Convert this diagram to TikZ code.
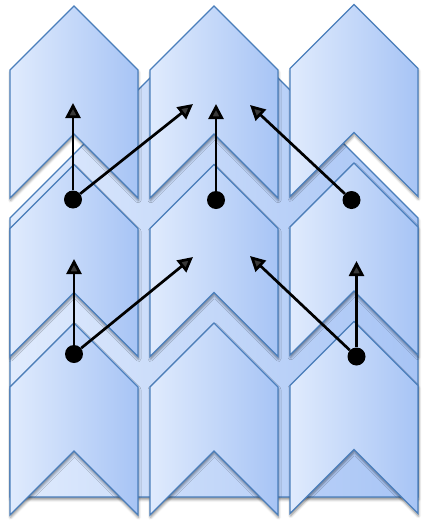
\documentclass[tikz,border=0pt]{standalone}
\usetikzlibrary{arrows.meta,shadows.blur}
\definecolor{cL}{HTML}{E0EBFD}
\definecolor{cR}{HTML}{A7C4F5}
\definecolor{cE}{HTML}{4A7EBB}
\newcommand\mychev[2]{\path[chev] (#1,#2) -- ++(64,64) -- ++(0,128) -- ++(-64,-64) -- ++(-64,64) -- ++(0,-128) -- cycle;}
\begin{document}
\begin{tikzpicture}[x=1pt,y=-1pt,
  chev/.style={draw=cE, line width=1.4pt, left color=cL, right color=cR, line join=miter,
    blur shadow={shadow xshift=0.5pt, shadow yshift=-2.5pt, shadow blur radius=2.5pt, shadow opacity=45}},
  dot/.style={circle, fill=black, inner sep=0pt, minimum size=18pt},
  arr/.style={line width=2.7pt, -{Triangle[length=15pt,width=15pt]}}]
\useasboundingbox (0,0) rectangle (421,520);
% background shape
\path[chev] (214,14) -- (418,218) -- (418,497) -- (10,497) -- (10,218) -- cycle;
% chevrons
\mychev{74}{6}\mychev{214}{6}\mychev{354}{4.5}
\mychev{74}{164.5}\mychev{214}{164.5}\mychev{354}{163}
\mychev{74}{323}\mychev{214}{323}\mychev{354}{321.5}
% dots
\node[dot] (d1) at (73,199.5) {};
\node[dot] (d2) at (216,200) {};
\node[dot] (d3) at (351.5,200) {};
\node[dot] (d4) at (74,354) {};
\node[dot] (d5) at (356.5,356.5) {};
% arrow ends
\coordinate (t1) at (73,103);
\coordinate (t2) at (193,104);
\coordinate (t3) at (216,104);
\coordinate (t4) at (250,105);
\coordinate (t5) at (74,259);
\coordinate (t6) at (193,257);
\coordinate (t7) at (250,256);
\coordinate (t8) at (356.5,261);
\draw[arr] (d1) -- (t1);
\draw[arr] (d1) -- (t2);
\draw[arr] (d2) -- (t3);
\draw[arr] (d3) -- (t4);
\draw[arr] (d4) -- (t5);
\draw[arr] (d4) -- (t6);
\draw[arr] (d5) -- (t7);
\draw[arr] (d5) -- (t8);
\end{tikzpicture}
\end{document}
